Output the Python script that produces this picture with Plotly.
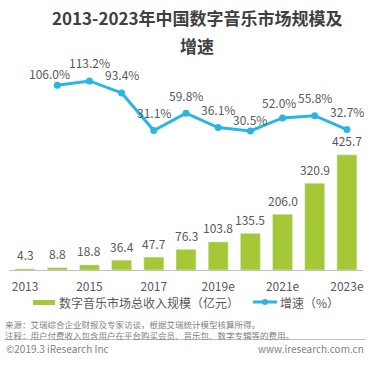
import plotly.graph_objects as go

# ---- data ----
years = ["2013", "2014", "2015", "2016", "2017", "2018",
         "2019e", "2020e", "2021e", "2022e", "2023e"]
revenue = [4.3, 8.8, 18.8, 36.4, 47.7, 76.3, 103.8, 135.5, 206.0, 320.9, 425.7]
growth_years = ["2014", "2015", "2016", "2017", "2018",
                "2019e", "2020e", "2021e", "2022e", "2023e"]
growth = [106.0, 113.2, 93.4, 31.1, 59.8, 36.1, 30.5, 52.0, 55.8, 32.7]
tick_labels = ["2013", "2015", "2017", "2019e", "2021e", "2023e"]

bar_name = "数字音乐市场总收入规模（亿元）"
line_name = "增速（%）"
title_l1 = "2013-2023年中国数字音乐市场规模及"
title_l2 = "增速"
source_txt = "来源：艾瑞综合企业财报及专家访谈，根据艾瑞统计模型核算所得。"
note_txt = "注释：用户付费收入包含用户在平台购买会员、音乐包、数字专辑等的费用。"
copy_txt = "©2019.3 iResearch Inc"
site_txt = "www.iresearch.com.cn"

# ---- layout geometry ----
W, H = 375, 371
L, R, T, B = 9, 12, 70, 101
PW, PH = W - L - R, H - T - B


def px(x):
    return (x - L) / PW


def py(y):
    return (H - B - y) / PH


BAR = "#a5c836"
LINE = "#2bb5e6"
TXT = "#595959"
GREY = "#7f7f7f"
FONT = "Noto Sans CJK SC"

fig = go.Figure()
fig.add_trace(go.Bar(x=years, y=revenue, marker_color=BAR, name=bar_name,
                     yaxis="y", showlegend=False, hoverinfo="x+y"))
fig.add_trace(go.Scatter(x=growth_years, y=growth, mode="lines+markers",
                         line=dict(color=LINE, width=3),
                         marker=dict(size=7, color=LINE),
                         name=line_name, yaxis="y2", showlegend=False))

ann = []
# bar value labels (x given as category index)
for x, v in zip(years, revenue):
    ann.append(dict(x=years.index(x), y=v, xref="x", yref="y", text=f"{v:.1f}",
                    showarrow=False, yanchor="middle", yshift=14,
                    font=dict(size=12, color=TXT, family=FONT)))
# growth labels
label_shift = {"2014": (-8, 12), "2020e": (0, 11), "2021e": (-4, 15)}
for x, v in zip(growth_years, growth):
    dx, dy = label_shift.get(x, (0, 18))
    ann.append(dict(x=years.index(x), y=v, xref="x", yref="y2", text=f"{v:.1f}%",
                    showarrow=False, yanchor="middle", xshift=dx, yshift=dy,
                    font=dict(size=12, color=TXT, family=FONT)))
# title
ann.append(dict(x=px(197), y=py(17), xref="paper", yref="paper", text=f"<b>{title_l1}</b>",
                showarrow=False, xanchor="center", yanchor="middle",
                font=dict(size=17, color="#404040", family=FONT)))
ann.append(dict(x=px(197), y=py(45), xref="paper", yref="paper", text=f"<b>{title_l2}</b>",
                showarrow=False, xanchor="center", yanchor="middle",
                font=dict(size=17, color="#404040", family=FONT)))
# legend text
ann.append(dict(x=px(57), y=py(302), xref="paper", yref="paper", text=bar_name,
                showarrow=False, xanchor="left", yanchor="middle",
                font=dict(size=12, color=TXT, family=FONT)))
ann.append(dict(x=px(278), y=py(302), xref="paper", yref="paper", text=line_name,
                showarrow=False, xanchor="left", yanchor="middle",
                font=dict(size=12, color=TXT, family=FONT)))
# footer (source + note as one two-line block)
ann.append(dict(x=px(4), y=py(329.5), xref="paper", yref="paper",
                text=source_txt + "<br>" + note_txt, align="left",
                showarrow=False, xanchor="left", yanchor="middle", borderpad=0,
                font=dict(size=8.5, color=GREY, family=FONT)))
ann.append(dict(x=px(4), y=py(348), xref="paper", yref="paper", text=copy_txt,
                showarrow=False, xanchor="left", yanchor="middle",
                font=dict(size=10, color=GREY, family=FONT)))
ann.append(dict(x=px(366), y=py(348), xref="paper", yref="paper", text=site_txt,
                showarrow=False, xanchor="right", yanchor="middle",
                font=dict(size=10, color=GREY, family=FONT)))

shapes = [
    # legend bar symbol
    dict(type="rect", xref="paper", yref="paper", x0=px(33), x1=px(55),
         y0=py(300), y1=py(305), fillcolor=BAR, line=dict(width=0)),
    # legend line symbol
    dict(type="line", xref="paper", yref="paper", x0=px(253), x1=px(277),
         y0=py(302), y1=py(302), line=dict(color=LINE, width=3)),
    dict(type="circle", xref="paper", yref="paper", x0=px(262), x1=px(268),
         y0=py(299), y1=py(305), fillcolor=LINE, line=dict(width=0)),
    # footer separator
    dict(type="line", xref="paper", yref="paper", x0=px(4), x1=px(366),
         y0=py(339.5), y1=py(339.5), line=dict(color="#bfbfbf", width=1)),
]

fig.update_layout(
    width=W, height=H,
    margin=dict(l=L, r=R, t=T, b=B, pad=0, autoexpand=False),
    paper_bgcolor="white", plot_bgcolor="white",
    bargap=0.38,
    font=dict(family=FONT, color=TXT),
    showlegend=False,
    annotations=ann, shapes=shapes,
    xaxis=dict(type="category", categoryorder="array", categoryarray=years,
               range=[-0.5, 10.5], tickvals=tick_labels, ticktext=tick_labels,
               showline=True, linecolor="#bfbfbf", linewidth=1,
               ticks="outside", ticklen=6, tickcolor="rgba(0,0,0,0)",
               tickfont=dict(size=12, color=TXT, family=FONT),
               showgrid=False, zeroline=False, fixedrange=True),
    yaxis=dict(range=[0, 739.4], visible=False, fixedrange=True),
    yaxis2=dict(range=[-199.5, 131.3], overlaying="y", visible=False, fixedrange=True),
)

fig.write_html("out.html", config={"displayModeBar": False},
               post_script="document.body.style.margin='0';document.body.style.overflow='hidden';")
